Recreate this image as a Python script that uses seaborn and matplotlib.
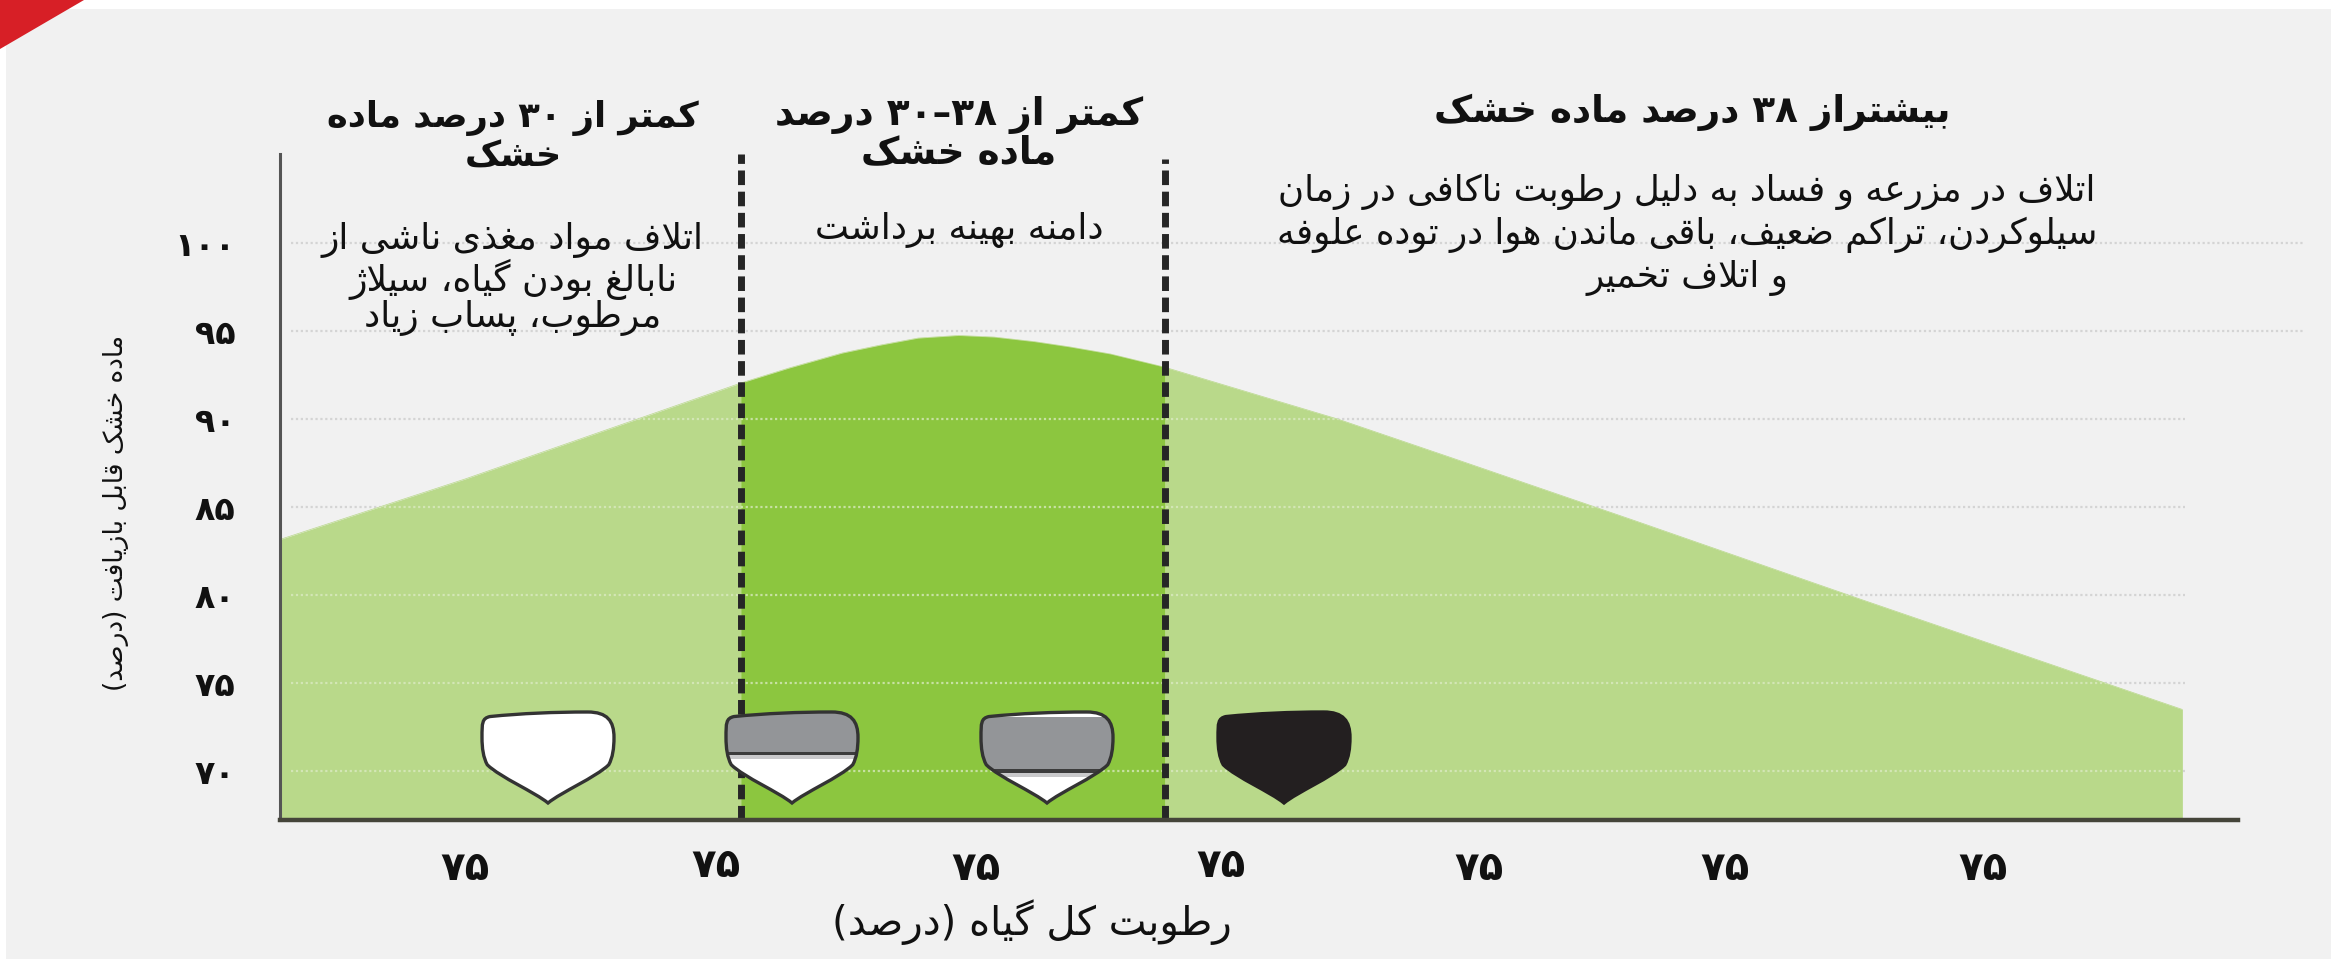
import numpy as np
import pandas as pd
import matplotlib
matplotlib.use("Agg")
import matplotlib.pyplot as plt
from matplotlib.patches import PathPatch, Polygon, Rectangle
from matplotlib.path import Path
from matplotlib.transforms import Affine2D
import seaborn as sns

# ---------- data ----------
curve_x = [0.265, 1.0, 2.09, 2.28, 2.49, 2.64, 2.79, 2.95, 3.09, 3.25, 3.39, 3.55,
           3.765, 4.45, 4.90, 5.63, 6.51, 7.79]
curve_y = [83.15, 86.6, 92.05, 92.9, 93.75, 94.2, 94.6, 94.75, 94.66, 94.4, 94.1, 93.7,
           92.95, 90.0, 87.8, 84.2, 79.8, 73.5]
band_left = 2.09
band_right = 3.765
x_tick_pos = [1.0, 1.99, 3.02, 3.99, 5.01, 5.98, 7.0]
x_tick_labels = ["۷۵"] * 7
x_tick_pads = [21, 19, 21, 19, 21, 21, 21]
y_tick_pos = [100, 95, 90, 85, 80, 75, 70]
y_tick_labels = ["۱۰۰", "۹۵", "۹۰", "۸۵", "۸۰", "۷۵", "۷۰"]
grid_end = [8.27, 8.27, 7.8, 7.8, 7.8, 7.8, 7.8]
icon_x_px = [548, 792, 1047, 1284]
icon_fill_below = [1.0, 0.53, 0.34, 0.0]   # share of the icon height that is white (from the tip)

title_1 = "کمتر از ۳۰ درصد ماده\nخشک"
title_2 = "کمتر از ۳۸–۳۰ درصد\nماده خشک"
title_3 = "بیشتراز ۳۸ درصد ماده خشک"
body_1 = "اتلاف مواد مغذی ناشی از\nنابالغ بودن گیاه، سیلاژ\nمرطوب، پساب زیاد"
body_2 = "دامنه بهینه برداشت"
body_3 = ("اتلاف در مزرعه و فساد به دلیل رطوبت ناکافی در زمان\n"
          "سیلوکردن، تراکم ضعیف، باقی ماندن هوا در توده علوفه\nو اتلاف تخمیر")
y_title = "ماده خشک قابل بازیافت (درصد)"
x_title = "رطوبت کل گیاه (درصد)"

# ---------- Persian shaping (matplotlib does no shaping or bidi) ----------
FOUR = {"ب": 0xFE8F, "ت": 0xFE95, "ث": 0xFE99, "ج": 0xFE9D, "ح": 0xFEA1, "خ": 0xFEA5,
        "س": 0xFEB1, "ش": 0xFEB5, "ص": 0xFEB9, "ض": 0xFEBD, "ط": 0xFEC1, "ظ": 0xFEC5,
        "ع": 0xFEC9, "غ": 0xFECD, "ف": 0xFED1, "ق": 0xFED5, "ل": 0xFEDD, "م": 0xFEE1,
        "ن": 0xFEE5, "ه": 0xFEE9, "پ": 0xFB56, "چ": 0xFB7A, "ک": 0xFB8E, "گ": 0xFB92,
        "ی": 0xFBFC}
TWO = {"ا": 0xFE8D, "د": 0xFEA9, "ذ": 0xFEAB, "ر": 0xFEAD, "ز": 0xFEAF, "و": 0xFEED,
       "ژ": 0xFB8A}
DIGITS = set("۰۱۲۳۴۵۶۷۸۹")
MIRROR = {"(": ")", ")": "("}


def shape_line(s):
    out = []
    i, n = 0, len(s)
    while i < n:
        c = s[i]
        prev = s[i - 1] if i else ""
        joins_prev = prev in FOUR
        nxt = s[i + 1] if i + 1 < n else ""
        if c == "ل" and nxt == "ا":
            out.append(chr(0xFEFC if joins_prev else 0xFEFB))
            i += 2
            continue
        if c in FOUR:
            b = FOUR[c]
            joins_next = nxt in FOUR or nxt in TWO
            idx = (1 if joins_prev else 0) if not joins_next else (3 if joins_prev else 2)
            out.append(chr(b + idx))
        elif c in TWO:
            out.append(chr(TWO[c] + (1 if joins_prev else 0)))
        else:
            out.append(MIRROR.get(c, c))
        i += 1
    # visual order: everything reversed, digit runs kept left to right
    runs, cur = [], ""
    for ch in out:
        if ch in DIGITS:
            cur += ch
        else:
            if cur:
                runs.append(cur)
                cur = ""
            runs.append(ch)
    if cur:
        runs.append(cur)
    return "".join(reversed(runs))


def fa(s):
    return "\n".join(shape_line(l) for l in s.split("\n"))


# ---------- figure ----------
W, H = 2331, 959
sns.set_theme(style="white")
plt.rcParams["font.family"] = ["DejaVu Sans"]

fig = plt.figure(figsize=(W / 100, H / 100), dpi=100, facecolor="white")
fig.patches.append(Rectangle((6 / W, 0), 1 - 6 / W, 1 - 9 / H, transform=fig.transFigure,
                             facecolor="#f1f1f1", edgecolor="none", zorder=-5))
fig.patches.append(Polygon([(0, 1), (84 / W, 1), (0, 1 - 49 / H)], closed=True,
                           transform=fig.transFigure, facecolor="#d71f26", edgecolor="none",
                           zorder=-4))

ax = fig.add_axes([280 / W, (H - 820) / H, (2238 - 280) / W, (820 - 154) / H])
ax.patch.set_alpha(0)
ax.set_xlim(0.267, 8.01)
ax.set_ylim(67.22, 105.06)

LIGHT, DARK = "#b9d98a", "#8cc63f"
df = pd.DataFrame({"x": curve_x, "y": curve_y})
sns.lineplot(data=df, x="x", y="y", ax=ax, color=LIGHT, linewidth=0.5, zorder=1.9)
xs, ys = np.array(curve_x), np.array(curve_y)
ymin = ax.get_ylim()[0]
light = ax.fill_between(xs, ymin, ys, color=LIGHT, linewidth=0, zorder=2)
ax.fill_between(xs, ymin, ys, where=(xs >= band_left) & (xs <= band_right), color=DARK,
                linewidth=0, zorder=2.5)

# dotted grid: grey on the panel, pale on the green area
for v, end in zip(y_tick_pos, grid_end):
    ax.plot([0.31, end], [v, v], color="#d4d4d4", lw=1.6, ls=(0, (1, 1.2)), zorder=1, clip_on=False)
    pale, = ax.plot([0.31, end], [v, v], color="#dcebc4", lw=1.6, ls=(0, (1, 1.2)), zorder=2.8,
                    clip_on=False, alpha=0.75)
    pale.set_clip_on(True)
    pale.set_clip_path(light.get_paths()[0], ax.transData)

# dashed limits
dash = (0, (2.1, 0.95))
ax.plot([band_left] * 2, [ymin, 105.06], color="#262626", lw=5, ls=dash, dash_capstyle="butt",
        zorder=6, clip_on=False)
ax.plot([band_right] * 2, [ymin, 104.8], color="#262626", lw=5, ls=dash, dash_capstyle="butt",
        zorder=6, clip_on=False)

# spines and ticks
sns.despine(ax=ax)
ax.spines["left"].set(color="#555555", linewidth=2.2, zorder=7)
ax.spines["bottom"].set(color="#45453a", linewidth=3.2, zorder=7)
ax.set_xlabel("")
ax.set_ylabel("")
ax.set_xticks(x_tick_pos, [fa(t) for t in x_tick_labels], fontsize=29, color="#111111", fontweight="bold")
ax.set_yticks(y_tick_pos, [fa(t) for t in y_tick_labels], fontsize=24, color="#111111", fontweight="bold")
ax.tick_params(axis="both", length=0)
ax.tick_params(axis="y", pad=32)
for tick, pad in zip(ax.xaxis.get_major_ticks(), x_tick_pads):
    tick.set_pad(pad)

# moisture icons
OUTLINE = Path(
    [(-0.44, 0.95), (-0.2, 0.985), (0.05, 1.0), (0.30, 1.0), (0.45, 1.0), (0.5, 0.9), (0.5, 0.72),
     (0.5, 0.6), (0.49, 0.5), (0.46, 0.42), (0.36, 0.28), (0.1, 0.12), (0.0, 0.0),
     (-0.1, 0.12), (-0.36, 0.28), (-0.46, 0.42), (-0.49, 0.5), (-0.5, 0.6), (-0.5, 0.72),
     (-0.5, 0.88), (-0.5, 0.93), (-0.44, 0.95), (-0.44, 0.95)],
    [Path.MOVETO] + [Path.CURVE4] * 21 + [Path.CLOSEPOLY])
ICON_W, ICON_H, ICON_TIP_Y = 132, 91, 803
for px, share in zip(icon_x_px, icon_fill_below):
    tr = Affine2D().scale(ICON_W, ICON_H).translate(px, H - ICON_TIP_Y)
    white = "#ffffff"
    grey = "#939598"
    if share >= 1:
        base, edge = white, "#333333"
    elif share <= 0:
        base, edge = "#231f20", "#231f20"
    else:
        base, edge = white, "#333333"
    body = PathPatch(OUTLINE, facecolor=base, edgecolor="none", transform=tr, zorder=8, clip_on=False)
    ax.add_patch(body)
    if 0 < share < 1:
        r = Rectangle((-0.6, share), 1.2, 0.6, facecolor=grey, edgecolor="none", transform=tr, zorder=8.1)
        ax.add_patch(r)
        r.set_clip_path(body)
        band = Rectangle((-0.6, share - 0.05), 1.2, 0.05, facecolor="#c9c9cb", edgecolor="none", transform=tr, zorder=8.1)
        ax.add_patch(band)
        band.set_clip_path(body)
        ln = Rectangle((-0.6, share - 0.005), 1.2, 0.035, facecolor="#3c3c3c", edgecolor="none", transform=tr, zorder=8.2)
        ax.add_patch(ln)
        ln.set_clip_path(body)
    ax.add_patch(PathPatch(OUTLINE, facecolor="none", edgecolor=edge, lw=2.4, transform=tr, zorder=8.5,
                           clip_on=False))


# texts
def put(px, py, s, size, weight="normal", rot=0, spacing=1.0):
    fig.text(px / W, 1 - py / H, fa(s), fontsize=size, fontweight=weight, rotation=rot, ha="center",
             va="center", ma="center", color="#111111", linespacing=spacing)


put(513, 137, title_1, 25.4, "bold", spacing=1.12)
put(959, 134, title_2, 27, "bold", spacing=1.05)
put(1692, 112, title_3, 26.8, "bold")
put(513, 279, body_1, 26, spacing=1.0)
put(959, 230, body_2, 26)
put(1687, 235, body_3, 25.7, spacing=1.24)
put(1032, 922, x_title, 29)
put(116, 513, y_title, 19, rot=90)

fig.savefig("out.png", dpi=100, facecolor=fig.get_facecolor())
